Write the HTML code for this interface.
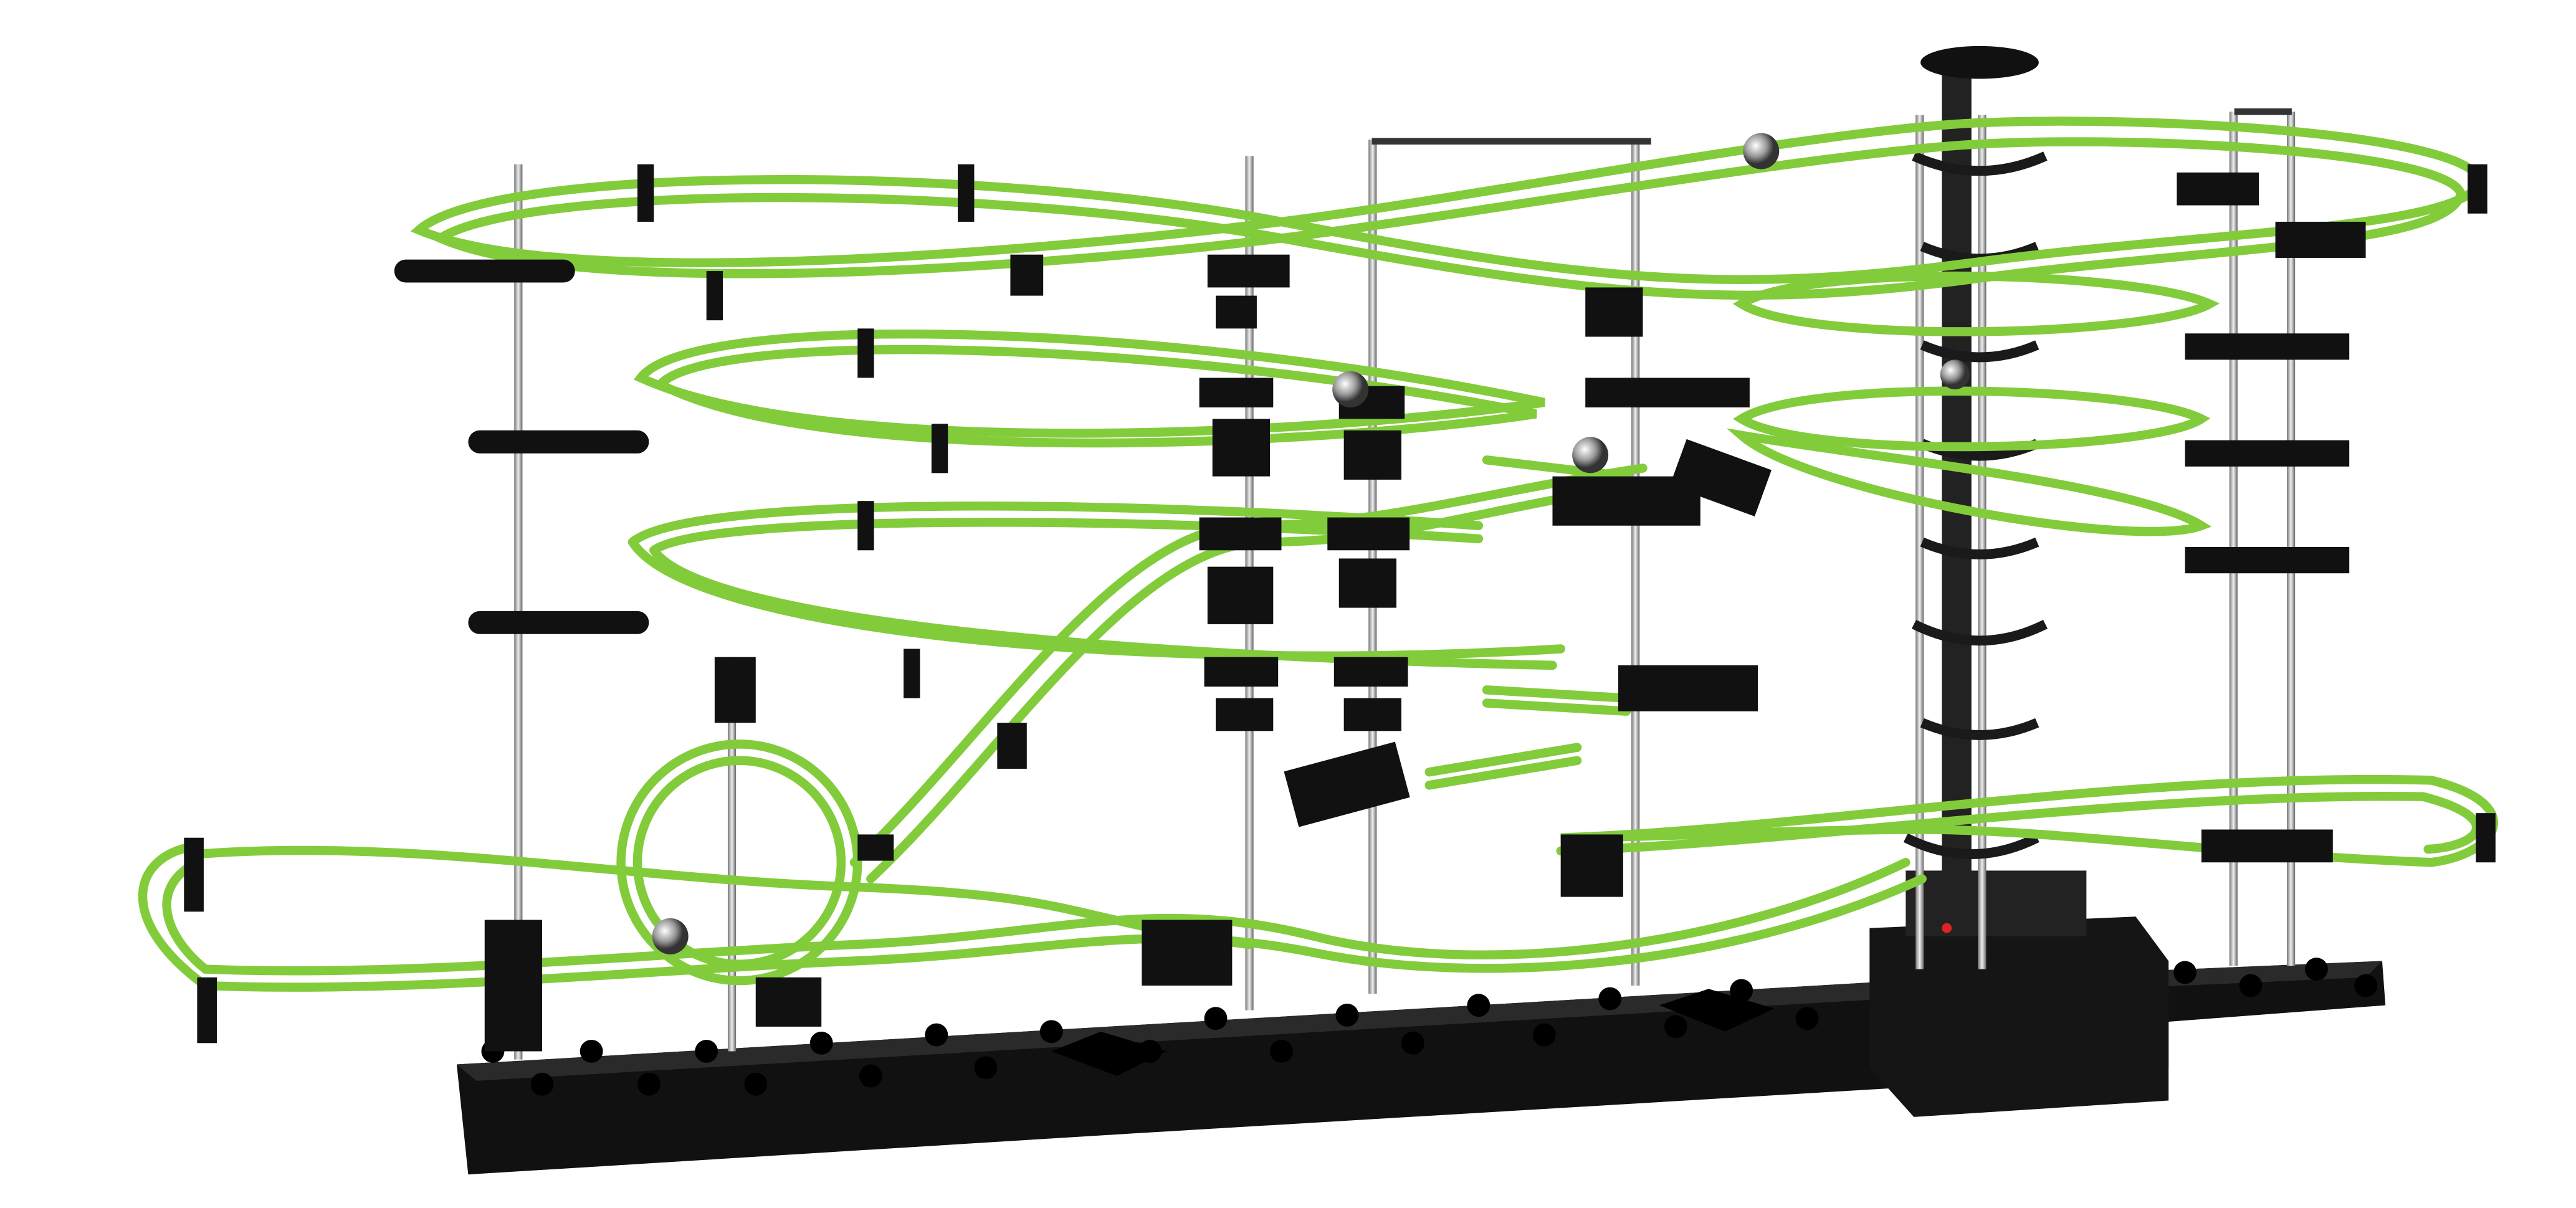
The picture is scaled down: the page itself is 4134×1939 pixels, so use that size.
<!DOCTYPE html>
<html><head><meta charset="utf-8"><style>
html,body{margin:0;padding:0;background:#fff;}
svg{display:block;width:4134px;height:1939px;}
</style></head><body>
<svg viewBox="0 0 1568 735.4" preserveAspectRatio="none" xmlns="http://www.w3.org/2000/svg">
<defs>
<linearGradient id="pole" x1="0" x2="1"><stop offset="0" stop-color="#777"/><stop offset="0.5" stop-color="#eee"/><stop offset="1" stop-color="#666"/></linearGradient>
<radialGradient id="ball" cx="0.35" cy="0.35"><stop offset="0" stop-color="#fff"/><stop offset="0.6" stop-color="#999"/><stop offset="1" stop-color="#333"/></radialGradient>
</defs>
<!-- base -->
<polygon points="278,648 1140,598 1450,585 1452,612 1320,622 1320,650 1160,662 690,690 285,715" fill="#111"/>
<polygon points="278,648 1140,598 1450,585 1440,595 1150,608 290,658" fill="#2a2a2a"/>
<g fill="#000">
<circle cx="300" cy="640" r="7"/><circle cx="330" cy="660" r="7"/><circle cx="360" cy="640" r="7"/><circle cx="395" cy="660" r="7"/><circle cx="430" cy="640" r="7"/><circle cx="460" cy="660" r="7"/><circle cx="500" cy="635" r="7"/><circle cx="530" cy="655" r="7"/><circle cx="570" cy="630" r="7"/><circle cx="600" cy="650" r="7"/><circle cx="640" cy="628" r="7"/><circle cx="700" cy="640" r="7"/><circle cx="740" cy="620" r="7"/><circle cx="780" cy="640" r="7"/><circle cx="820" cy="618" r="7"/><circle cx="860" cy="635" r="7"/><circle cx="900" cy="612" r="7"/><circle cx="940" cy="630" r="7"/><circle cx="980" cy="608" r="7"/><circle cx="1020" cy="625" r="7"/><circle cx="1060" cy="603" r="7"/><circle cx="1100" cy="620" r="7"/><circle cx="1330" cy="592" r="7"/><circle cx="1370" cy="600" r="7"/><circle cx="1410" cy="590" r="7"/><circle cx="1440" cy="600" r="7"/>
<path d="M640,640 l30,-12 l40,12 l-30,15z"/><path d="M1010,612 l30,-10 l40,12 l-30,14z"/>
</g>
<!-- motor box -->
<path d="M1138,565 L1300,558 L1320,585 L1320,670 L1165,680 L1138,650z" fill="#151515"/>
<rect x="1160" y="530" width="110" height="40" fill="#222"/>
<circle cx="1185" cy="565" r="3" fill="#d22"/>
<!-- poles -->
<g fill="url(#pole)">
<rect x="313" y="100" width="5" height="545"/><rect x="443" y="400" width="5" height="240"/>
<rect x="758" y="95" width="5" height="520"/><rect x="833" y="85" width="5" height="520"/>
<rect x="993" y="85" width="5" height="515"/><rect x="1166" y="70" width="5" height="520"/>
<rect x="1204" y="70" width="5" height="520"/><rect x="1357" y="68" width="5" height="520"/><rect x="1392" y="68" width="5" height="520"/>
</g>
<rect x="835" y="84" width="170" height="4" fill="#333"/><rect x="1360" y="66" width="35" height="4" fill="#333"/>
<!-- tower -->
<rect x="1182" y="40" width="18" height="520" fill="#222"/>
<ellipse cx="1205" cy="38" rx="36" ry="10" fill="#111"/>
<g fill="none" stroke="#1a1a1a" stroke-width="6">
<path d="M1165,95 q40,18 80,0"/><path d="M1170,150 q35,15 70,0"/><path d="M1170,210 q35,15 70,0"/><path d="M1170,270 q35,15 70,0"/><path d="M1170,330 q35,15 70,0"/><path d="M1165,380 q40,20 80,0"/><path d="M1170,440 q35,15 70,0"/><path d="M1160,510 q40,20 80,0"/>
</g>
<!-- green tracks -->
<g fill="none" stroke="#82cc3c" stroke-width="5.5" stroke-linecap="round">
<path d="M255,140 C300,100 600,100 780,135 S1050,180 1200,160 S1500,140 1510,110 C1500,80 1300,70 1200,75 S900,120 780,135 S350,180 255,140z"/>
<path d="M268,145 C320,112 600,112 780,145 S1050,190 1200,170 S1490,150 1498,118 C1490,92 1300,82 1200,88 S900,130 780,145 S360,185 268,145z"/>
<path d="M390,230 C420,190 700,195 940,245 C800,265 500,280 390,230z"/>
<path d="M402,234 C430,202 700,205 935,252 C800,272 500,285 402,234z"/>
<path d="M385,330 C420,300 700,305 900,320 M385,330 C420,385 700,410 950,395"/>
<path d="M398,335 C430,312 700,315 900,328 M398,335 C430,380 700,400 945,405"/>
<path d="M520,525 C600,450 680,320 760,320 S900,300 1000,285"/>
<path d="M530,535 C610,460 690,330 770,330 S900,310 1000,295"/>
<circle cx="450" cy="525" r="72"/><circle cx="450" cy="525" r="62"/>
<path d="M120,515 C80,520 70,560 125,600 C250,605 400,590 520,585 S700,560 800,580 S1050,590 1170,535"/>
<path d="M120,525 C90,540 100,570 125,590 C250,595 400,580 520,575 S700,545 800,570 S1050,578 1160,525"/>
<path d="M120,520 C250,510 380,535 520,540 S650,560 760,575"/>
<path d="M1060,185 C1100,160 1300,165 1345,185 C1310,205 1100,210 1060,185z"/>
<path d="M1060,255 C1100,230 1300,235 1340,255 C1310,275 1100,280 1060,255z"/>
<path d="M1060,265 C1100,300 1300,335 1340,320 C1300,295 1150,280 1060,265z"/>
<path d="M950,510 C1100,505 1300,470 1480,475 C1540,490 1520,520 1480,525 C1350,520 1250,505 1170,505 S1000,510 950,510z"/>
<path d="M950,518 C1100,513 1300,482 1475,485 C1525,498 1510,515 1478,517"/>
<path d="M905,420 L990,425 M905,428 L990,433 M870,470 L960,455 M870,478 L960,463 M905,280 L990,290"/>
</g>
<!-- clips -->
<g fill="#111">
<rect x="240" y="158" width="110" height="14" rx="7"/><rect x="285" y="262" width="110" height="14" rx="7"/><rect x="285" y="372" width="110" height="14" rx="7"/>
<rect x="388" y="100" width="10" height="35"/><rect x="583" y="100" width="10" height="35"/><rect x="430" y="165" width="10" height="30"/><rect x="615" y="155" width="20" height="25"/>
<rect x="522" y="200" width="10" height="30"/><rect x="567" y="258" width="10" height="30"/><rect x="522" y="305" width="10" height="30"/><rect x="550" y="395" width="10" height="30"/>
<rect x="435" y="400" width="25" height="40"/><rect x="607" y="440" width="18" height="28"/>
<rect x="735" y="155" width="50" height="20"/><rect x="740" y="180" width="25" height="20"/>
<rect x="730" y="230" width="45" height="18"/><rect x="738" y="255" width="35" height="35"/>
<rect x="730" y="315" width="50" height="20"/><rect x="735" y="345" width="40" height="35"/>
<rect x="733" y="400" width="45" height="18"/><rect x="740" y="425" width="35" height="20"/>
<rect x="815" y="235" width="40" height="20"/><rect x="818" y="262" width="35" height="30"/>
<rect x="808" y="315" width="50" height="20"/><rect x="815" y="340" width="35" height="30"/>
<rect x="812" y="400" width="45" height="18"/><rect x="818" y="425" width="35" height="20"/>
<rect x="785" y="460" width="70" height="35" transform="rotate(-15 820 478)"/>
<rect x="965" y="175" width="35" height="30"/><rect x="965" y="230" width="100" height="18"/><rect x="945" y="290" width="90" height="30"/>
<rect x="1020" y="275" width="55" height="30" transform="rotate(20 1045 290)"/><rect x="985" y="405" width="85" height="28"/>
<rect x="1325" y="105" width="50" height="20"/><rect x="1385" y="135" width="55" height="22"/>
<rect x="1330" y="203" width="100" height="16"/><rect x="1330" y="268" width="100" height="16"/><rect x="1330" y="333" width="100" height="16"/><rect x="1340" y="505" width="80" height="20"/>
<rect x="112" y="510" width="12" height="45"/><rect x="120" y="595" width="12" height="40"/><rect x="295" y="560" width="35" height="80"/><rect x="460" y="595" width="40" height="30"/><rect x="695" y="560" width="55" height="40"/>
<rect x="522" y="508" width="22" height="16"/><rect x="950" y="508" width="38" height="38"/><rect x="1507" y="495" width="12" height="30"/><rect x="1502" y="100" width="12" height="30"/>
</g>
<g fill="url(#ball)">
<circle cx="1072" cy="92" r="11"/><circle cx="822" cy="237" r="11"/><circle cx="968" cy="277" r="11"/><circle cx="408" cy="570" r="11"/><circle cx="1190" cy="228" r="9"/>
</g>
</svg>
</body></html>
